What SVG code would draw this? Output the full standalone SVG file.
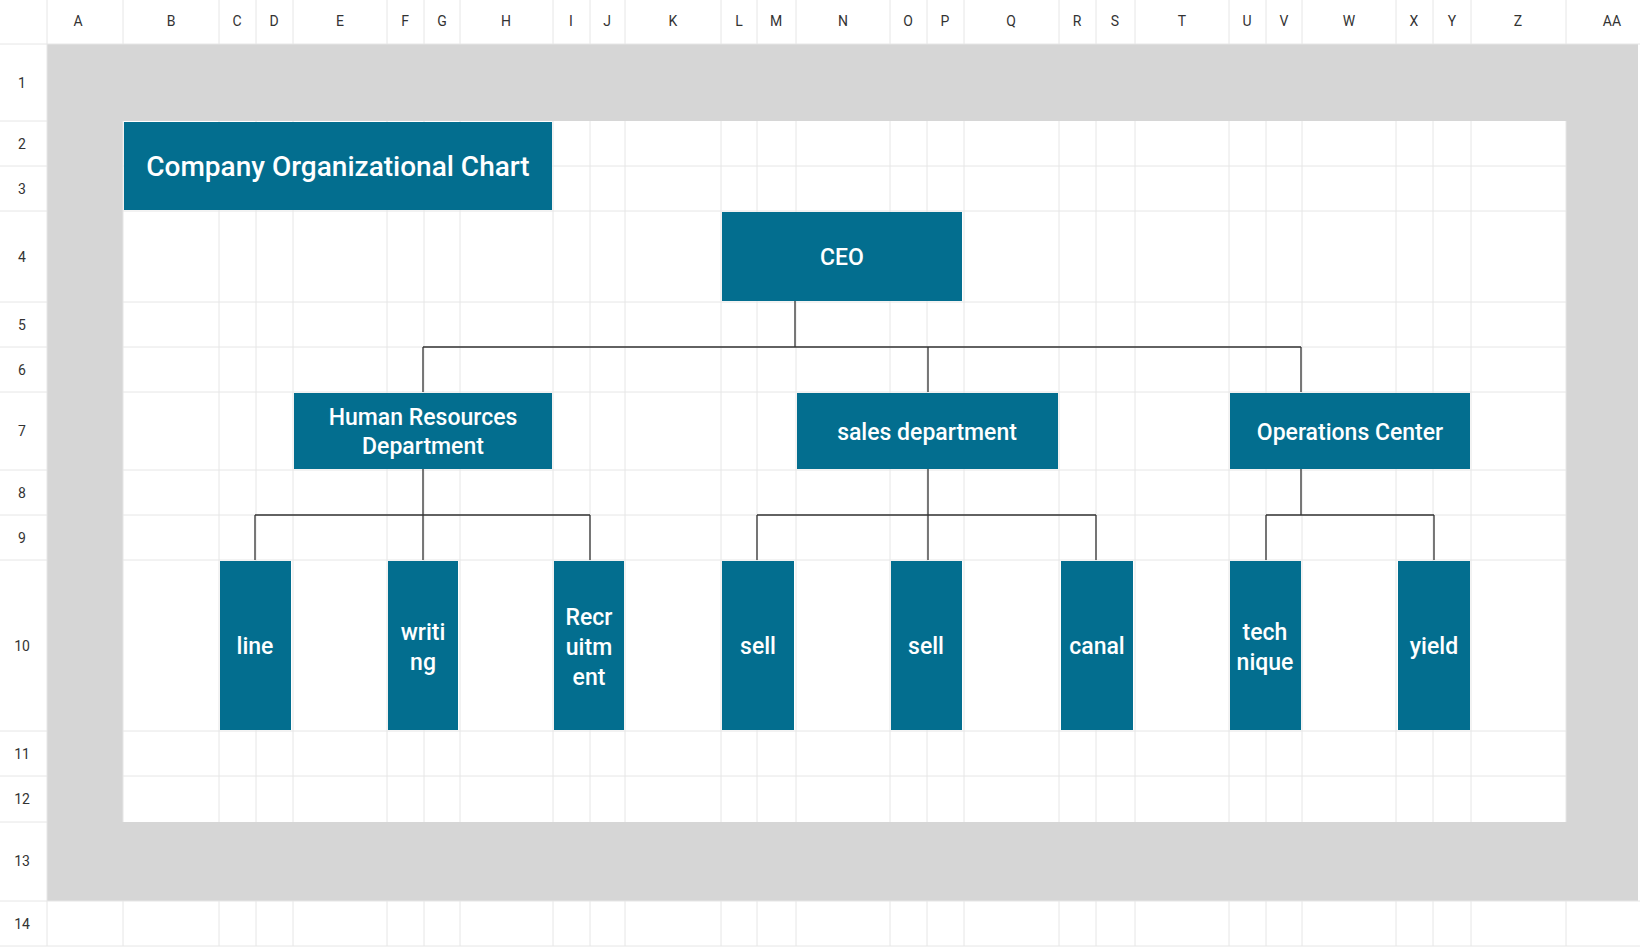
<svg xmlns="http://www.w3.org/2000/svg" width="1640" height="952" viewBox="0 0 1640 952">
<style>
.hd{font-family:Roboto,"Liberation Sans",sans-serif;font-size:14px;fill:#333;text-anchor:middle}
.g{stroke:#e6e6e6;stroke-width:1}
.n{fill:#036e8f}
.t{font-family:Roboto,"Liberation Sans",sans-serif;font-size:23px;font-weight:500;fill:#fff;text-anchor:middle}
.c{stroke:#333;stroke-width:1.3;fill:none}
</style>
<rect x="0" y="0" width="1640" height="952" fill="#fff"/>
<rect x="47" y="44" width="1591" height="857" fill="#d6d6d6"/>
<rect x="123" y="121" width="1443" height="701" fill="#fff"/>
<g class="g">
<path d="M47 0V946M123 0V44M123 121V822M123 901V946M219 0V44M219 121V822M219 901V946M256 0V44M256 121V822M256 901V946M293 0V44M293 121V822M293 901V946M387 0V44M387 121V822M387 901V946M424 0V44M424 121V822M424 901V946M460 0V44M460 121V822M460 901V946M553 0V44M553 121V822M553 901V946M590 0V44M590 121V822M590 901V946M625 0V44M625 121V822M625 901V946M721 0V44M721 121V822M721 901V946M757 0V44M757 121V822M757 901V946M796 0V44M796 121V822M796 901V946M890 0V44M890 121V822M890 901V946M927 0V44M927 121V822M927 901V946M964 0V44M964 121V822M964 901V946M1059 0V44M1059 121V822M1059 901V946M1096 0V44M1096 121V822M1096 901V946M1135 0V44M1135 121V822M1135 901V946M1229 0V44M1229 121V822M1229 901V946M1266 0V44M1266 121V822M1266 901V946M1302 0V44M1302 121V822M1302 901V946M1396 0V44M1396 121V822M1396 901V946M1433 0V44M1433 121V822M1433 901V946M1471 0V44M1471 121V822M1471 901V946M1566 0V44M1566 121V822M1566 901V946"/>
<path d="M0 44H1640M0 121H47M0 166H47M123 166H1566M0 211H47M123 211H1566M0 302H47M123 302H1566M0 347H47M123 347H1566M0 392H47M123 392H1566M0 470H47M123 470H1566M0 515H47M123 515H1566M0 560H47M123 560H1566M0 731H47M123 731H1566M0 776H47M123 776H1566M0 822H47M0 901H1640M0 946H1640"/>
</g>
<g>
<text class="hd" x="78" y="26">A</text><text class="hd" x="171" y="26">B</text><text class="hd" x="237" y="26">C</text><text class="hd" x="274" y="26">D</text><text class="hd" x="340" y="26">E</text><text class="hd" x="405" y="26">F</text><text class="hd" x="442" y="26">G</text><text class="hd" x="506" y="26">H</text><text class="hd" x="571" y="26">I</text><text class="hd" x="607" y="26">J</text><text class="hd" x="673" y="26">K</text><text class="hd" x="739" y="26">L</text><text class="hd" x="776" y="26">M</text><text class="hd" x="843" y="26">N</text><text class="hd" x="908" y="26">O</text><text class="hd" x="945" y="26">P</text><text class="hd" x="1011" y="26">Q</text><text class="hd" x="1077" y="26">R</text><text class="hd" x="1115" y="26">S</text><text class="hd" x="1182" y="26">T</text><text class="hd" x="1247" y="26">U</text><text class="hd" x="1284" y="26">V</text><text class="hd" x="1349" y="26">W</text><text class="hd" x="1414" y="26">X</text><text class="hd" x="1452" y="26">Y</text><text class="hd" x="1518" y="26">Z</text><text class="hd" x="1612" y="26">AA</text>
<text class="hd" x="22" y="88">1</text><text class="hd" x="22" y="149">2</text><text class="hd" x="22" y="194">3</text><text class="hd" x="22" y="262">4</text><text class="hd" x="22" y="330">5</text><text class="hd" x="22" y="375">6</text><text class="hd" x="22" y="436">7</text><text class="hd" x="22" y="498">8</text><text class="hd" x="22" y="543">9</text><text class="hd" x="22" y="651">10</text><text class="hd" x="22" y="759">11</text><text class="hd" x="22" y="804">12</text><text class="hd" x="22" y="866">13</text><text class="hd" x="22" y="929">14</text>
</g>
<g id="connectors" class="c">
<path d="M795 301V347M423 347H1301M423 347V392M928 347V392M1301 347V392"/>
<path d="M423 469V515M255 515H590M255 515V560M423 515V560M590 515V560"/>
<path d="M928 469V515M757 515H1096M757 515V560M928 515V560M1096 515V560"/>
<path d="M1301 469V515M1266 515H1434M1266 515V560M1434 515V560"/>
</g>
<g id="title"><rect class="n" x="124" y="122" width="428" height="88"/><text class="t" x="338" y="176" style="font-size:28px">Company Organizational Chart</text></g>
<g id="ceo"><rect class="n" x="722" y="212" width="240" height="89"/><text class="t" x="842" y="265">CEO</text></g>
<g id="hr"><rect class="n" x="294" y="393" width="258" height="76"/><text class="t" x="423" y="425">Human Resources</text><text class="t" x="423" y="454">Department</text></g>
<g id="sales"><rect class="n" x="797" y="393" width="261" height="76"/><text class="t" x="927" y="440">sales department</text></g>
<g id="ops"><rect class="n" x="1230" y="393" width="240" height="76"/><text class="t" x="1350" y="440">Operations Center</text></g>
<g id="line"><rect class="n" x="220" y="561" width="71" height="169"/><text class="t" x="255" y="654">line</text></g>
<g id="writing"><rect class="n" x="388" y="561" width="70" height="169"/><text class="t" x="423" y="640">writi</text><text class="t" x="423" y="670">ng</text></g>
<g id="recruitment"><rect class="n" x="554" y="561" width="70" height="169"/><text class="t" x="589" y="625">Recr</text><text class="t" x="589" y="655">uitm</text><text class="t" x="589" y="685">ent</text></g>
<g id="sell1"><rect class="n" x="722" y="561" width="72" height="169"/><text class="t" x="758" y="654">sell</text></g>
<g id="sell2"><rect class="n" x="891" y="561" width="71" height="169"/><text class="t" x="926" y="654">sell</text></g>
<g id="canal"><rect class="n" x="1061" y="561" width="72" height="169"/><text class="t" x="1097" y="654">canal</text></g>
<g id="technique"><rect class="n" x="1230" y="561" width="71" height="169"/><text class="t" x="1265" y="640">tech</text><text class="t" x="1265" y="670">nique</text></g>
<g id="yield"><rect class="n" x="1398" y="561" width="72" height="169"/><text class="t" x="1434" y="654">yield</text></g>
</svg>
